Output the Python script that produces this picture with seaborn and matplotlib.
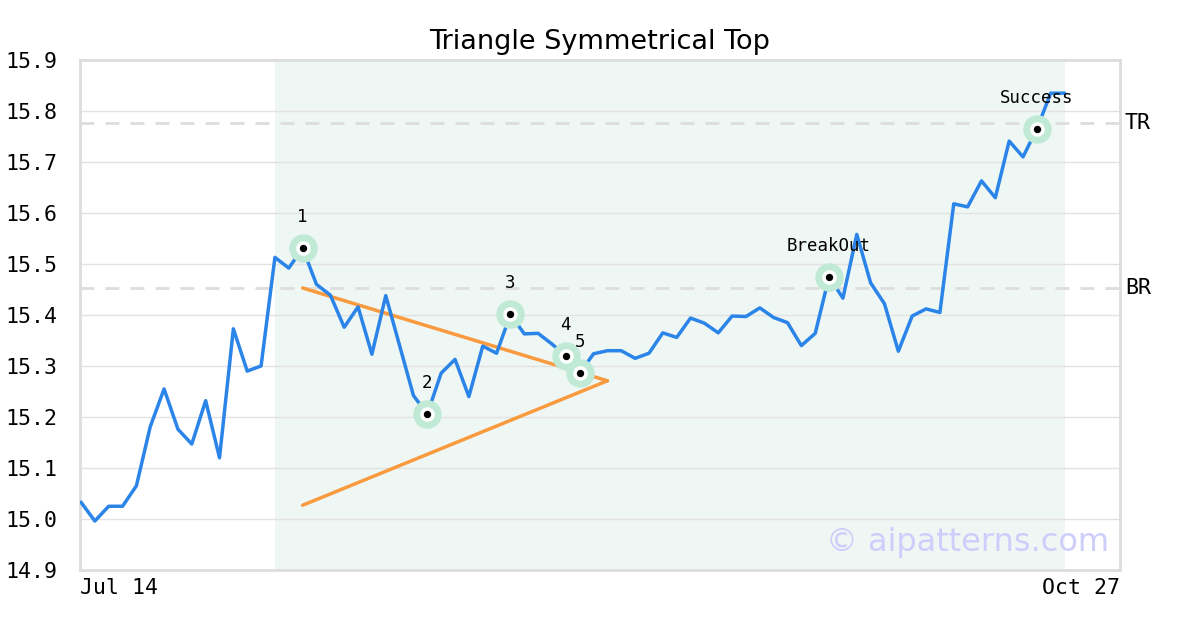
import matplotlib
matplotlib.use("Agg")
import matplotlib.pyplot as plt
import seaborn as sns
import pandas as pd

## price series (one value per trading day)
prices = [15.033, 14.996, 15.025, 15.025, 15.065, 15.181, 15.255, 15.176, 15.147, 15.232,
          15.120, 15.373, 15.290, 15.300, 15.513, 15.492, 15.531, 15.460, 15.439, 15.376,
          15.416, 15.323, 15.438, 15.340, 15.242, 15.206, 15.286, 15.313, 15.240, 15.339,
          15.325, 15.401, 15.363, 15.364, 15.343, 15.320, 15.286, 15.324, 15.330, 15.330,
          15.315, 15.325, 15.365, 15.356, 15.394, 15.384, 15.365, 15.398, 15.397, 15.414,
          15.395, 15.385, 15.340, 15.364, 15.475, 15.433, 15.558, 15.463, 15.422, 15.329,
          15.398, 15.412, 15.405, 15.618, 15.612, 15.663, 15.630, 15.741, 15.710, 15.765,
          15.835, 15.835]

## pattern points
point_idx = [16, 25, 31, 35, 36, 54, 69]
point_labels = ['1', '2', '3', '4', '5', 'BreakOut', 'Success']

## triangle lines (start idx, end idx, start value, end value)
upper_line = [16, 38, 15.453, 15.271]
lower_line = [16, 38, 15.027, 15.271]

## levels
level_values = [15.776, 15.453]
level_labels = ['TR', 'BR']

## shaded pattern window
shade_span = [14, 71]

x_tick_labels = ['Jul 14', 'Oct 27']
y_ticks = [14.9, 15.0, 15.1, 15.2, 15.3, 15.4, 15.5, 15.6, 15.7, 15.8, 15.9]

df = pd.DataFrame({'idx': range(len(prices)), 'price': prices})

sns.set_style('white')
plt.rcParams['font.family'] = ['DejaVu Sans Mono', 'DejaVu Sans']
plt.rcParams['text.color'] = 'black'

fig = plt.figure(figsize=(12, 6.3), dpi=100)
ax = fig.add_axes([80 / 1200, 60 / 630, 1040 / 1200, 510 / 630])

xmin, xmax = -0.07, 75.0
ax.set_xlim(xmin, xmax)
ax.set_ylim(14.9, 15.9)

# background band + grid
ax.axvspan(shade_span[0], shade_span[1], color='#eff7f4', zorder=0, lw=0)
for y in y_ticks:
    ax.axhline(y, color='#e2e2e2', lw=1, zorder=1)

# support / resistance levels
for val, lab in zip(level_values, level_labels):
    ax.axhline(val, color='#dddddd', lw=2, ls=(0, (5, 4)), zorder=2)
    ax.text(xmax + 0.35, val, lab, fontsize=15.5, va='center', ha='left',
            family='DejaVu Sans Mono', color='black', clip_on=False)

# price line
sns.lineplot(data=df, x='idx', y='price', color='#2b84e8', lw=2.5, ax=ax, zorder=4)

# triangle
for ln in [upper_line, lower_line]:
    ax.plot([ln[0], ln[1]], [ln[2], ln[3]], color='#f99a3e', lw=2.5, zorder=3)

# pattern points
px = [i for i in point_idx]
py = [prices[i] for i in point_idx]
ax.scatter(px, py, s=420, color='#c0ead6', zorder=5, lw=0)
ax.scatter(px, py, s=110, color='white', zorder=6, lw=0)
ax.scatter(px, py, s=28, color='black', zorder=7, lw=0)
for x, y, lab in zip(px, py, point_labels):
    ax.annotate(lab, (x, y), xytext=(0, 16), textcoords='offset points',
                ha='center', va='bottom', fontsize=12.5, family='DejaVu Sans Mono',
                color='black', zorder=8)

# watermark
ax.text(0.99, 0.053, '\u00a9 aipatterns.com', transform=ax.transAxes, ha='right', va='center',
        fontsize=23, color='#cfcdfb', family='DejaVu Sans', zorder=9)

# axes styling
ax.set_yticks(y_ticks)
ax.set_yticklabels(['{:.1f}'.format(v) for v in y_ticks], fontsize=15.5)
ax.set_xticks([xmin, xmax])
ax.set_xticklabels(x_tick_labels, fontsize=15.5)
xt = ax.get_xticklabels()
xt[0].set_ha('left')
xt[1].set_ha('right')
ax.tick_params(axis='both', length=0, labelcolor='black')
ax.tick_params(axis='y', pad=16)
ax.tick_params(axis='x', pad=6)
ax.set_xlabel('')
ax.set_ylabel('')
for sp in ax.spines.values():
    sp.set_color('#dddddd')
    sp.set_linewidth(2)

ax.set_title('Triangle Symmetrical Top', fontsize=19.5, family='DejaVu Sans',
             color='black', pad=8)

fig.savefig('out.png', dpi=100)
